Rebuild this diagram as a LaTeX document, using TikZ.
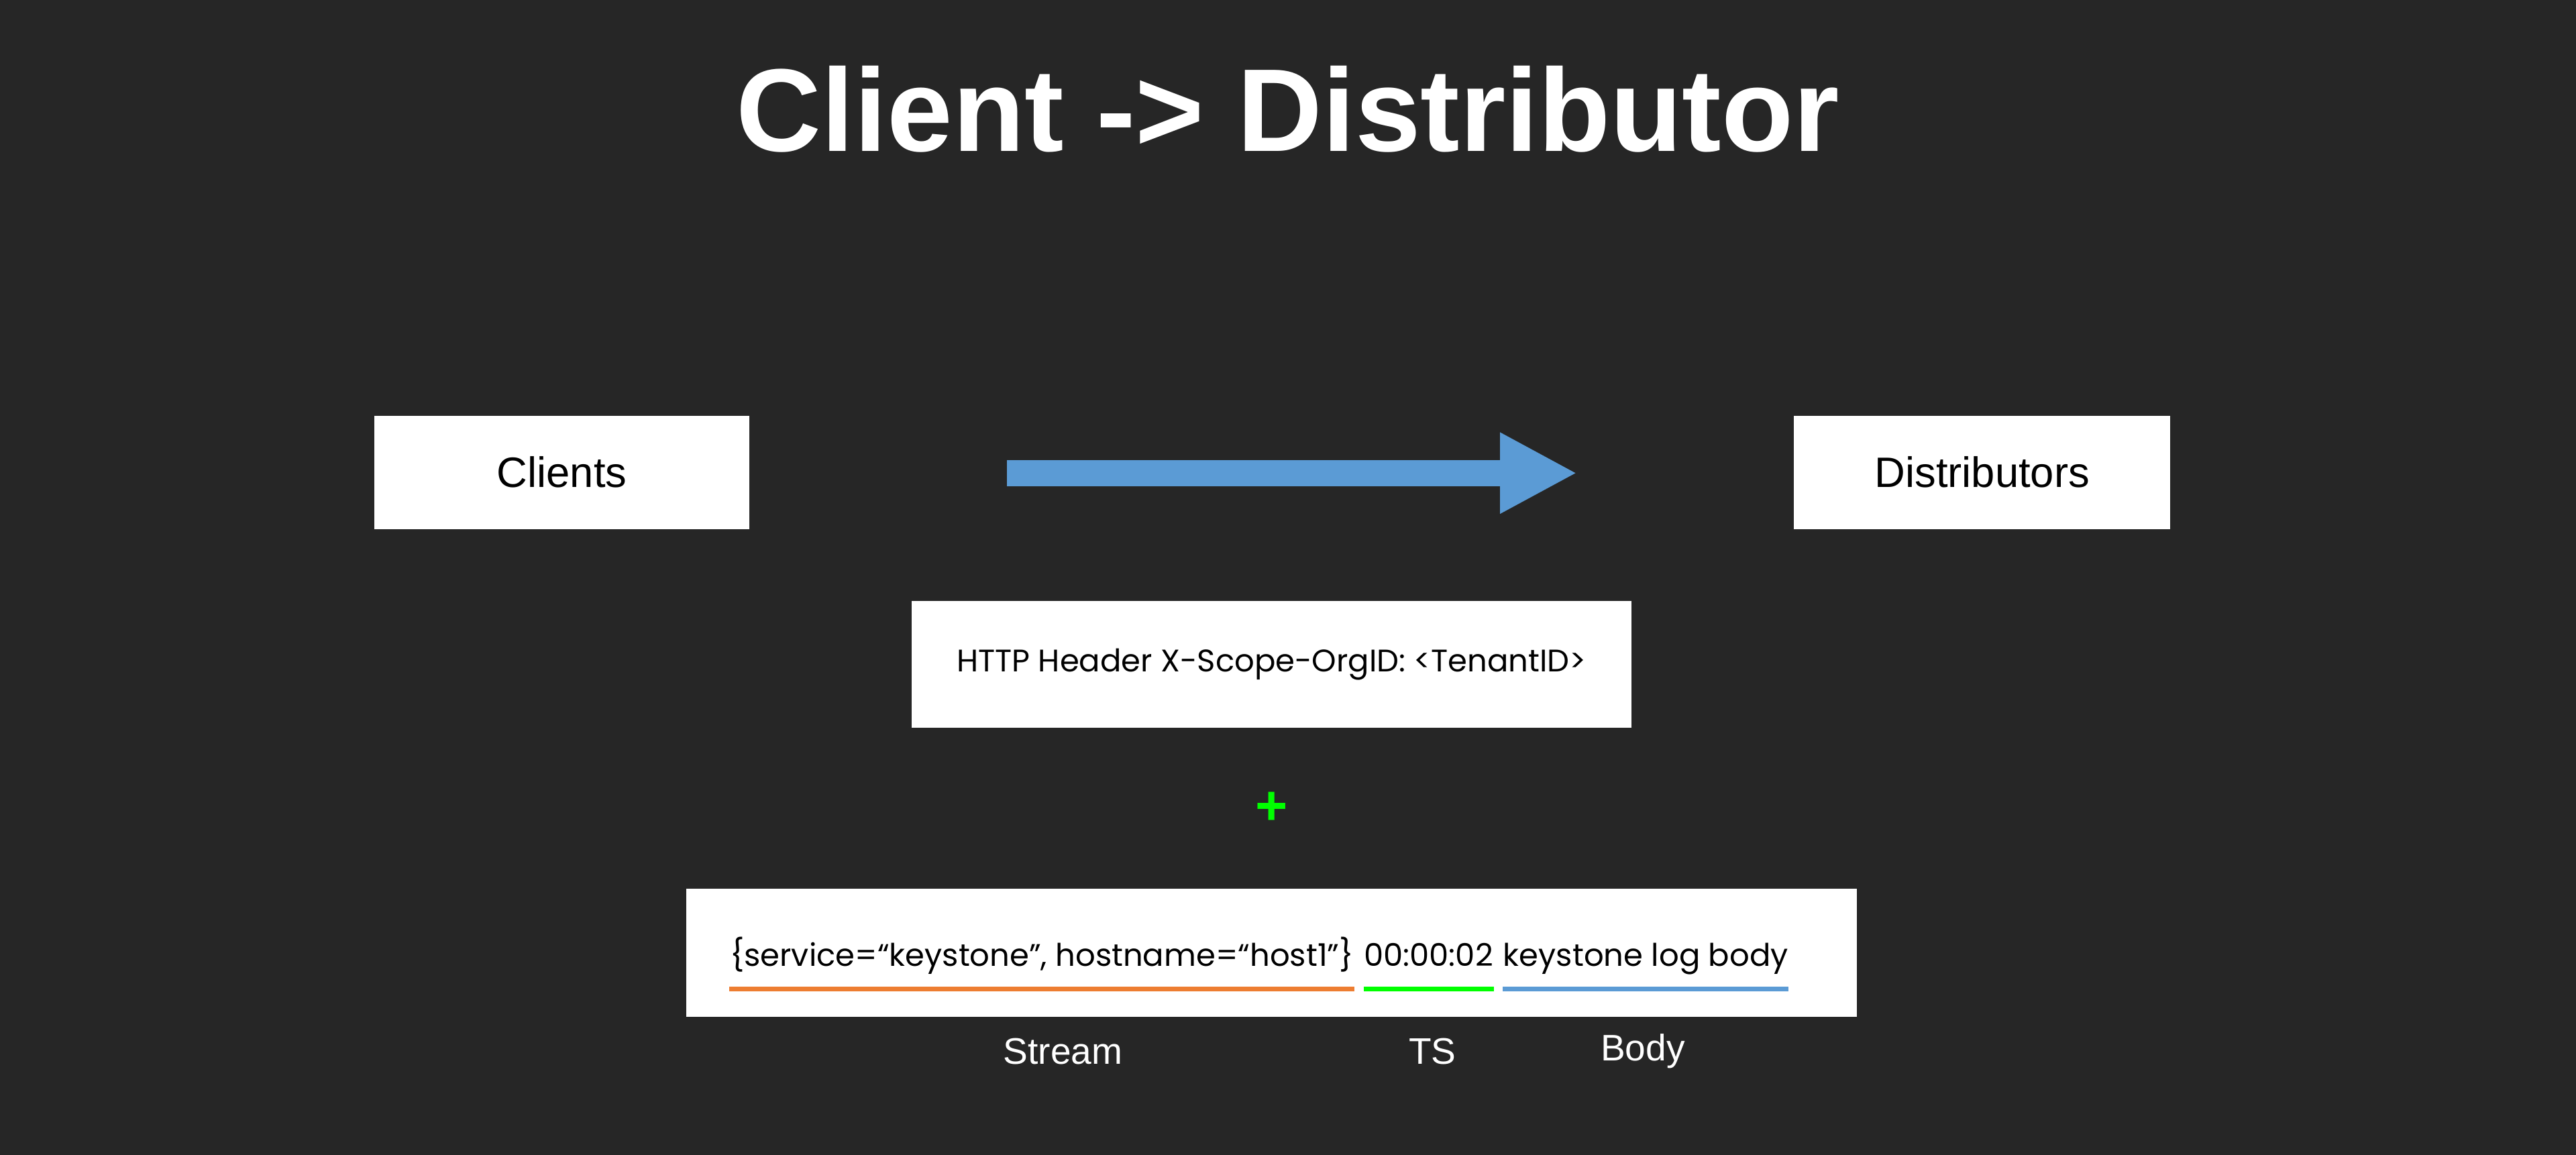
\documentclass[tikz,border=0pt]{standalone}
\usepackage{fontspec}
\setmainfont{Liberation Sans}
\newfontfamily\geofont{Poppins}
\usetikzlibrary{positioning,arrows.meta}

\definecolor{bg}{HTML}{262626}
\definecolor{flowblue}{HTML}{5B9BD5}
\definecolor{streamorange}{HTML}{ED7D31}
\definecolor{tsgreen}{HTML}{00FF00}

\tikzset{
  box/.style={fill=white, inner sep=0pt, font=\fontsize{18.4}{22}\selectfont},
  geotext/.style={inner sep=0pt, font=\geofont\fontsize{13.5}{16}\selectfont},
  partlabel/.style={text=white, font=\fontsize{16}{19}\selectfont},
  underline/.style={line width=2.2pt}
}

\begin{document}
\begin{tikzpicture}[x=0.025cm, y=-0.025cm]

\fill[bg] (0,0) rectangle (1568,703);

\node[text=white, font=\bfseries\fontsize{51}{60}\selectfont, anchor=base] (title) at (784,92) {Client -> Distributor};

% the two ends
\node[box, minimum width=5.7cm, minimum height=1.725cm] (clients) at (342,287.5) {Clients};
\node[box, minimum width=5.725cm, minimum height=1.725cm] (distributors) at (1206.5,287.5) {Distributors};

\coordinate (flowstart) at (613,288);
\coordinate (flowend) at (960,288);
\draw[flowblue, line width=11.4pt, -{Triangle[length=33.4pt, width=32.7pt]}] (flowstart) -- (flowend);

\node[box, geotext, minimum width=10.95cm, minimum height=1.925cm] (header) at (774,404.5) {HTTP Header X-Scope-OrgID: <TenantID>};

\node[text=tsgreen, font=\bfseries\fontsize{24}{28}\selectfont] (plus) at (774,492) {+};

% log entry
\node[box, minimum width=17.8cm, minimum height=1.95cm] (entry) at (774,580) {};
\node[geotext, anchor=base west] (stream) at (444,588) {\{service=“keystone”, hostname=“host1”\}};
\node[geotext, base right=4pt of stream] (ts) {00:00:02};
\node[geotext, base right=4pt of ts] (body) {keystone log body};

\coordinate (lineY) at (0,602);
\draw[underline, streamorange] (stream.west |- lineY) -- (stream.east |- lineY);
\draw[underline, tsgreen] (ts.west |- lineY) -- (ts.east |- lineY);
\draw[underline, flowblue] (body.west |- lineY) -- (body.east |- lineY);

\node[partlabel] (streamlabel) at (647,640) {Stream};
\node[partlabel] (tslabel) at (872,640) {TS};
\node[partlabel] (bodylabel) at (1000,640) {Body};

\end{tikzpicture}
\end{document}
